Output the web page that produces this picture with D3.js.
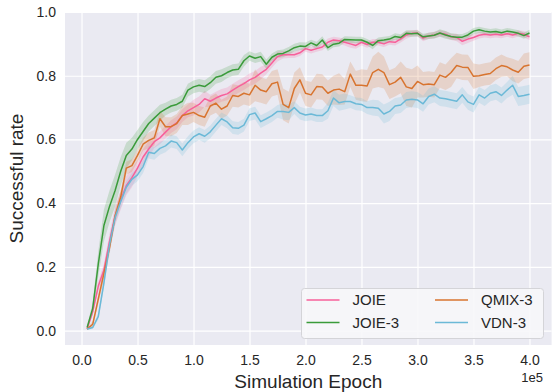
<!DOCTYPE html>
<html>
<head>
<meta charset="utf-8">
<script src="https://cdn.jsdelivr.net/npm/d3@7"></script>
<style>
  body { margin: 0; background: #fff; }
  svg { display: block; font-family: "Liberation Sans", Arial, sans-serif; }
</style>
</head>
<body>
<div id="chart"></div>
<script>
// evaluation grid: every 5000 epochs from 5e3 to 4e5
const epochs = d3.range(5000, 400001, 5000);

const joie = [
  0.005, 0.06, 0.14, 0.19, 0.28, 0.36, 0.41, 0.455, 0.48, 0.51,
  0.545, 0.57, 0.593, 0.605, 0.623, 0.64, 0.652, 0.675, 0.69, 0.70,
  0.71, 0.728, 0.72, 0.73, 0.738, 0.743, 0.755, 0.766, 0.775, 0.787,
  0.795, 0.808, 0.82, 0.84, 0.86, 0.866, 0.866, 0.866, 0.872, 0.885,
  0.88, 0.885, 0.89, 0.905, 0.912, 0.91, 0.905, 0.90, 0.895, 0.905,
  0.898, 0.905, 0.905, 0.90, 0.907, 0.905, 0.916, 0.928, 0.933, 0.934,
  0.918, 0.925, 0.928, 0.933, 0.93, 0.922, 0.92, 0.908, 0.915, 0.92,
  0.927, 0.93, 0.928, 0.93, 0.928, 0.932, 0.928, 0.933, 0.93, 0.922
];
const joie3 = [
  0.01, 0.07, 0.21, 0.33, 0.39, 0.44, 0.50, 0.55, 0.57, 0.60,
  0.625, 0.65, 0.667, 0.684, 0.695, 0.705, 0.71, 0.72, 0.755, 0.765,
  0.77, 0.766, 0.778, 0.795, 0.80, 0.81, 0.818, 0.82, 0.847, 0.862,
  0.855, 0.86, 0.836, 0.858, 0.868, 0.87, 0.878, 0.888, 0.893, 0.892,
  0.903, 0.895, 0.912, 0.888, 0.899, 0.902, 0.914, 0.913, 0.912, 0.912,
  0.905, 0.895, 0.91, 0.912, 0.915, 0.923, 0.92, 0.933, 0.932, 0.933,
  0.922, 0.925, 0.927, 0.934, 0.928, 0.923, 0.921, 0.921, 0.928, 0.94,
  0.944, 0.94, 0.937, 0.939, 0.935, 0.94, 0.937, 0.933, 0.926, 0.934
];
const qmix3 = [
  0.005, 0.02, 0.10, 0.18, 0.26, 0.36, 0.42, 0.51, 0.518, 0.55,
  0.585, 0.597, 0.605, 0.665, 0.64, 0.64, 0.65, 0.675, 0.68, 0.685,
  0.675, 0.67, 0.705, 0.714, 0.695, 0.705, 0.738, 0.735, 0.745, 0.74,
  0.77, 0.755, 0.75, 0.775, 0.78, 0.71, 0.70, 0.76, 0.787, 0.745,
  0.74, 0.766, 0.765, 0.745, 0.755, 0.758, 0.75, 0.805, 0.77, 0.77,
  0.768, 0.81, 0.82, 0.81, 0.772, 0.78, 0.795, 0.765, 0.76, 0.782,
  0.772, 0.774, 0.772, 0.802, 0.795, 0.81, 0.832, 0.827, 0.826, 0.798,
  0.80, 0.804, 0.807, 0.822, 0.832, 0.828, 0.818, 0.811, 0.83, 0.834
];
const vdn3 = [
  0.005, 0.01, 0.045, 0.15, 0.27, 0.355, 0.405, 0.45, 0.475, 0.489,
  0.515, 0.56, 0.556, 0.572, 0.58, 0.595, 0.59, 0.567, 0.59, 0.608,
  0.618, 0.61, 0.624, 0.645, 0.665, 0.655, 0.637, 0.635, 0.645, 0.678,
  0.683, 0.656, 0.665, 0.675, 0.688, 0.688, 0.685, 0.70, 0.683, 0.677,
  0.68, 0.675, 0.675, 0.69, 0.73, 0.715, 0.719, 0.719, 0.712, 0.71,
  0.70, 0.70, 0.698, 0.68, 0.688, 0.705, 0.708, 0.724, 0.726, 0.724,
  0.712, 0.735, 0.742, 0.73, 0.728, 0.724, 0.72, 0.74, 0.718, 0.71,
  0.74, 0.73, 0.745, 0.75, 0.738, 0.755, 0.77, 0.735, 0.738, 0.742
];

// half-width of the shaded band around each curve
const joieSpread = [
  0.003, 0.01, 0.015, 0.02, 0.025, 0.03, 0.03, 0.03, 0.03, 0.025,
  0.025, 0.025, 0.02, 0.02, 0.02, 0.02, 0.02, 0.02, 0.02, 0.025,
  0.025, 0.025, 0.02, 0.02, 0.02, 0.02, 0.02, 0.02, 0.02, 0.02,
  0.02, 0.02, 0.015, 0.015, 0.015, 0.012, 0.01, 0.01, 0.01, 0.01,
  0.01, 0.01, 0.01, 0.012, 0.01, 0.01, 0.01, 0.012, 0.01, 0.01,
  0.01, 0.01, 0.01, 0.01, 0.01, 0.01, 0.012, 0.012, 0.01, 0.01,
  0.01, 0.01, 0.01, 0.01, 0.01, 0.01, 0.012, 0.012, 0.012, 0.01,
  0.01, 0.01, 0.01, 0.01, 0.01, 0.01, 0.01, 0.01, 0.01, 0.01
];
const joie3Spread = [
  0.003, 0.02, 0.04, 0.05, 0.05, 0.05, 0.045, 0.04, 0.035, 0.03,
  0.03, 0.025, 0.025, 0.025, 0.02, 0.02, 0.02, 0.02, 0.02, 0.02,
  0.02, 0.02, 0.02, 0.02, 0.02, 0.018, 0.018, 0.018, 0.018, 0.015,
  0.015, 0.015, 0.015, 0.012, 0.012, 0.012, 0.012, 0.012, 0.012, 0.012,
  0.01, 0.012, 0.012, 0.01, 0.01, 0.01, 0.01, 0.01, 0.01, 0.01,
  0.01, 0.012, 0.01, 0.01, 0.01, 0.01, 0.01, 0.01, 0.01, 0.01,
  0.01, 0.01, 0.01, 0.012, 0.012, 0.01, 0.01, 0.01, 0.01, 0.01,
  0.01, 0.01, 0.01, 0.01, 0.01, 0.01, 0.01, 0.01, 0.01, 0.01
];
const qmix3Spread = [
  0.003, 0.01, 0.015, 0.02, 0.02, 0.02, 0.02, 0.02, 0.02, 0.02,
  0.02, 0.025, 0.025, 0.025, 0.03, 0.03, 0.03, 0.03, 0.035, 0.03,
  0.03, 0.03, 0.03, 0.03, 0.03, 0.03, 0.035, 0.035, 0.035, 0.035,
  0.05, 0.04, 0.04, 0.04, 0.04, 0.05, 0.05, 0.05, 0.04, 0.04,
  0.04, 0.04, 0.04, 0.04, 0.045, 0.05, 0.04, 0.04, 0.045, 0.05,
  0.05, 0.05, 0.055, 0.05, 0.045, 0.045, 0.05, 0.06, 0.06, 0.05,
  0.04, 0.04, 0.04, 0.04, 0.04, 0.045, 0.04, 0.04, 0.04, 0.04,
  0.035, 0.035, 0.035, 0.035, 0.035, 0.03, 0.035, 0.035, 0.04, 0.04
];
const vdn3Spread = [
  0.003, 0.005, 0.01, 0.015, 0.02, 0.02, 0.02, 0.02, 0.02, 0.02,
  0.02, 0.02, 0.02, 0.02, 0.02, 0.02, 0.02, 0.02, 0.02, 0.02,
  0.02, 0.02, 0.02, 0.02, 0.02, 0.02, 0.02, 0.02, 0.02, 0.02,
  0.02, 0.02, 0.02, 0.02, 0.02, 0.025, 0.025, 0.02, 0.02, 0.02,
  0.02, 0.02, 0.02, 0.025, 0.025, 0.025, 0.025, 0.02, 0.02, 0.02,
  0.02, 0.025, 0.025, 0.03, 0.03, 0.025, 0.025, 0.025, 0.025, 0.025,
  0.025, 0.025, 0.025, 0.025, 0.025, 0.025, 0.025, 0.025, 0.025, 0.025,
  0.025, 0.025, 0.025, 0.025, 0.025, 0.025, 0.03, 0.03, 0.03, 0.03
];

const xTicks = [0, 50000, 100000, 150000, 200000, 250000, 300000, 350000, 400000];
const yTicks = [0, 0.2, 0.4, 0.6, 0.8, 1.0];

const series = [
  { name: 'JOIE',   values: joie,  spread: joieSpread,  color: '#f7609a' },
  { name: 'JOIE-3', values: joie3, spread: joie3Spread, color: '#3a9b3a' },
  { name: 'QMIX-3', values: qmix3, spread: qmix3Spread, color: '#d8742f' },
  { name: 'VDN-3',  values: vdn3,  spread: vdn3Spread,  color: '#6bb9d7' }
];

const width = 552, height = 392;
const plot = { left: 65, right: 551.6, top: 12, bottom: 345 };
const textColor = '#262626';

const svg = d3.select('#chart').append('svg')
  .attr('width', width)
  .attr('height', height);

svg.append('rect')
  .attr('width', width).attr('height', height)
  .attr('fill', '#fff');

const x = d3.scaleLinear()
  .domain([-14750, 419750])
  .range([plot.left, plot.right]);

const y = d3.scaleLinear()
  .domain([-0.045, 1.0])
  .range([plot.bottom, plot.top]);

svg.append('rect')
  .attr('x', plot.left).attr('y', plot.top)
  .attr('width', plot.right - plot.left)
  .attr('height', plot.bottom - plot.top)
  .attr('fill', '#eaeaf2');

// grid
const xAxis = svg.append('g')
  .attr('transform', `translate(0,${plot.bottom})`)
  .call(d3.axisBottom(x).tickValues(xTicks)
    .tickSize(-(plot.bottom - plot.top))
    .tickPadding(10)
    .tickFormat(d => (d / 1e5).toFixed(1)));

const yAxis = svg.append('g')
  .attr('transform', `translate(${plot.left},0)`)
  .call(d3.axisLeft(y).tickValues(yTicks)
    .tickSize(-(plot.right - plot.left))
    .tickPadding(9)
    .tickFormat(d3.format('.1f')));

[xAxis, yAxis].forEach(ax => {
  ax.select('.domain').remove();
  ax.selectAll('.tick line').attr('stroke', '#fff').attr('stroke-width', 1.2);
  ax.selectAll('.tick text')
    .attr('fill', textColor)
    .style('font-size', '14px')
    .style('font-family', '"Liberation Sans", Arial, sans-serif');
});
xAxis.selectAll('.tick text').attr('dy', '0.71em');

svg.append('clipPath').attr('id', 'plot-clip')
  .append('rect')
  .attr('x', plot.left).attr('y', plot.top)
  .attr('width', plot.right - plot.left)
  .attr('height', plot.bottom - plot.top);

const g = svg.append('g').attr('clip-path', 'url(#plot-clip)');

const area = d3.area()
  .x((d, i) => x(epochs[i]))
  .y0(d => y(d[0]))
  .y1(d => y(d[1]));

const line = d3.line()
  .x((d, i) => x(epochs[i]))
  .y(d => y(d));

series.forEach(s => {
  const band = s.values.map((v, i) => [v - s.spread[i], v + s.spread[i]]);
  g.append('path')
    .datum(band)
    .attr('fill', s.color)
    .attr('fill-opacity', 0.2)
    .attr('d', area);
});

series.forEach(s => {
  g.append('path')
    .datum(s.values)
    .attr('fill', 'none')
    .attr('stroke', s.color)
    .attr('stroke-width', 1.5)
    .attr('stroke-linejoin', 'round')
    .attr('d', line);
});

// axis labels
svg.append('text')
  .attr('x', (plot.left + plot.right) / 2)
  .attr('y', 388)
  .attr('text-anchor', 'middle')
  .attr('fill', textColor)
  .style('font-size', '19px')
  .text('Simulation Epoch');

svg.append('text')
  .attr('transform', `translate(23,${(plot.top + plot.bottom) / 2}) rotate(-90)`)
  .attr('text-anchor', 'middle')
  .attr('fill', textColor)
  .style('font-size', '19px')
  .text('Successful rate');

svg.append('text')
  .attr('x', 543)
  .attr('y', 382)
  .attr('text-anchor', 'end')
  .attr('fill', textColor)
  .style('font-size', '13px')
  .text('1e5');

// legend
const legend = svg.append('g');
legend.append('rect')
  .attr('x', 301.5).attr('y', 288.5)
  .attr('width', 242).attr('height', 50)
  .attr('rx', 3)
  .attr('fill', '#f7f7fa')
  .attr('fill-opacity', 0.9)
  .attr('stroke', '#d4d4d8');

const cols = [306.5, 435], rows = [300, 322.5];
series.forEach((s, i) => {
  const cx = cols[Math.floor(i / 2)], cy = rows[i % 2];
  legend.append('line')
    .attr('x1', cx).attr('x2', cx + 33)
    .attr('y1', cy).attr('y2', cy)
    .attr('stroke', s.color)
    .attr('stroke-width', 1.5);
  legend.append('text')
    .attr('x', cx + 46)
    .attr('y', cy)
    .attr('dy', '0.36em')
    .attr('fill', textColor)
    .style('font-size', '15px')
    .text(s.name);
});
</script>
</body>
</html>
